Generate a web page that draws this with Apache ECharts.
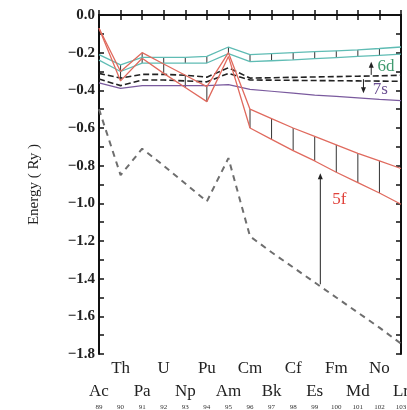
<!DOCTYPE html>
<html><head><meta charset="utf-8">
<script src="https://cdn.jsdelivr.net/npm/echarts@6/dist/echarts.min.js"></script>
<style>html,body{margin:0;padding:0;background:#fff;overflow:hidden}#c{width:407px;height:410px}</style>
</head><body><div id="c"></div>
<script>
const elements = ['Ac','Th','Pa','U','Np','Pu','Am','Cm','Bk','Cf','Es','Fm','Md','No','Lr'];
const atomicNumbers = [89,90,91,92,93,94,95,96,97,98,99,100,101,102,103];
const yTicks = [-1.8,-1.6,-1.4,-1.2,-1.0,-0.8,-0.6,-0.4,-0.2,0.0];

const d6Upper = [-0.21,-0.265,-0.225,-0.225,-0.225,-0.22,-0.17,-0.21,-0.205,-0.20,-0.195,-0.19,-0.185,-0.178,-0.17];
const d6Lower = [-0.24,-0.30,-0.255,-0.255,-0.255,-0.255,-0.205,-0.248,-0.243,-0.238,-0.232,-0.226,-0.22,-0.214,-0.208];
const s7Upper = [-0.31,-0.335,-0.315,-0.315,-0.32,-0.33,-0.28,-0.335,-0.333,-0.331,-0.329,-0.327,-0.325,-0.323,-0.32];
const s7Lower = [-0.34,-0.375,-0.345,-0.345,-0.35,-0.355,-0.31,-0.345,-0.346,-0.347,-0.348,-0.349,-0.35,-0.351,-0.352];
const purpleLine = [-0.36,-0.39,-0.375,-0.375,-0.375,-0.375,-0.37,-0.395,-0.405,-0.415,-0.425,-0.432,-0.44,-0.448,-0.455];
const f5Upper = [-0.07,-0.30,-0.20,-0.26,-0.32,-0.38,-0.20,-0.50,-0.55,-0.60,-0.645,-0.69,-0.735,-0.775,-0.815];
const f5Lower = [-0.07,-0.35,-0.23,-0.31,-0.385,-0.46,-0.22,-0.60,-0.66,-0.72,-0.775,-0.835,-0.89,-0.945,-1.005];
const greyDashed = [-0.50,-0.85,-0.71,-0.80,-0.895,-0.99,-0.76,-1.175,-1.26,-1.34,-1.42,-1.50,-1.58,-1.66,-1.745];

const hatchIdx6d = [1,2,3,4,5,6,7,8,9,10,11,12,13];
const hatchIdx5f = [1,2,3,4,5,7,8,9,10,11,12,13];

const arrowX = [99.26, 101.62, 101.26];
const arrowFrom = [-1.43, -0.318, -0.341];
const arrowTo = [-0.84, -0.248, -0.415];

const noteText = ['5f','6d','7s'];
const noteX = [100.14, 102.31, 102.04];
const noteY = [-0.98, -0.274, -0.398];
const noteColor = ['#e0413a','#3f9a6e','#6b4f92'];

const pairs = arr => arr.map((v,i)=>[atomicNumbers[i], v]);
const FONT = 'Liberation Serif';

function lineSeries(name, arr, color, width, type){
  return {name, type:'line', data:pairs(arr), symbol:'none', silent:true,
    lineStyle:{color, width, type: type||'solid'}, z:3};
}

const hatchData = hatchIdx6d.map(i=>[atomicNumbers[i], d6Upper[i], d6Lower[i]])
  .concat(hatchIdx5f.map(i=>[atomicNumbers[i], f5Upper[i], f5Lower[i]]));

const arrowData = arrowX.map((x,i)=>[x, arrowFrom[i], arrowTo[i]]);
const noteData = noteX.map((x,i)=>[x, noteY[i], i]);

const xBase = {type:'value', min:89, max:103, interval:1, splitLine:{show:false}, gridIndex:0};
function rowFormatter(parity){
  return v => { const i = Math.round(v-89); return (i%2===parity) ? elements[i] : ''; };
}

const option = {
  animation:false,
  backgroundColor:'#fff',
  grid:{left:99, right:6, top:15, bottom:56, containLabel:false, outerBoundsMode:'none'},
  xAxis:[
    Object.assign({}, xBase, {position:'bottom',
      axisLine:{show:true, lineStyle:{color:'#111', width:2}},
      axisTick:{show:true, inside:true, length:5, lineStyle:{color:'#111', width:1.5}},
      axisLabel:{show:true, showMinLabel:true, showMaxLabel:true, formatter:rowFormatter(1), margin:6, fontFamily:FONT, fontSize:17, color:'#222'}}),
    Object.assign({}, xBase, {position:'bottom', offset:23,
      axisLine:{show:false}, axisTick:{show:false},
      axisLabel:{show:true, showMinLabel:true, showMaxLabel:true, formatter:rowFormatter(0), margin:6, fontFamily:FONT, fontSize:17, color:'#222'}}),
    Object.assign({}, xBase, {position:'bottom', offset:44,
      axisLine:{show:false}, axisTick:{show:false},
      axisLabel:{show:true, showMinLabel:true, showMaxLabel:true, formatter:v=>String(Math.round(v)), margin:6, fontFamily:FONT, fontSize:7, color:'#333'}}),
    Object.assign({}, xBase, {position:'top',
      axisLine:{show:true, lineStyle:{color:'#111', width:2}},
      axisTick:{show:true, inside:true, length:5, lineStyle:{color:'#111', width:1.5}},
      axisLabel:{show:false}})
  ],
  yAxis:[
    {type:'value', min:yTicks[0], max:yTicks[yTicks.length-1], interval:0.2, position:'left',
      splitLine:{show:false},
      axisLine:{show:true, lineStyle:{color:'#111', width:2}},
      axisTick:{show:true, inside:true, length:5, lineStyle:{color:'#111', width:1.5}},
      minorTick:{show:true, splitNumber:2, length:5, lineStyle:{color:'#111', width:1.5}},
      minorSplitLine:{show:false},
      axisLabel:{margin:4, fontFamily:FONT, fontSize:15, fontWeight:'bold', color:'#222',
        formatter:v=>{const s=Math.abs(v).toFixed(1); return (v<-1e-9?'\u2212':'')+s;}},
      name:'Energy ( Ry )', nameLocation:'middle', nameGap:57,
      nameTextStyle:{fontFamily:FONT, fontSize:15, color:'#222'}},
    {type:'value', min:yTicks[0], max:yTicks[yTicks.length-1], interval:0.2, position:'right',
      splitLine:{show:false},
      axisLine:{show:true, lineStyle:{color:'#111', width:2}},
      axisTick:{show:true, inside:true, length:5, lineStyle:{color:'#111', width:1.5}},
      minorTick:{show:true, splitNumber:2, length:5, lineStyle:{color:'#111', width:1.5}},
      axisLabel:{show:false}}
  ],
  series:[
    lineSeries('grey', greyDashed, '#6e6e6e', 2, [6,5]),
    lineSeries('purple', purpleLine, '#7a5a9e', 1.2),
    lineSeries('7s upper', s7Upper, '#222', 1.6, [6,3]),
    lineSeries('7s lower', s7Lower, '#222', 1.6, [6,3]),
    lineSeries('6d upper', d6Upper, '#5fbcb4', 1.3),
    lineSeries('6d lower', d6Lower, '#5fbcb4', 1.3),
    lineSeries('5f upper', f5Upper, '#e06a5e', 1.3),
    lineSeries('5f lower', f5Lower, '#e06a5e', 1.3),
    {type:'custom', name:'hatch', silent:true, z:2, data:hatchData,
      renderItem:(params, api)=>{
        const p1 = api.coord([api.value(0), api.value(1)]);
        const p2 = api.coord([api.value(0), api.value(2)]);
        return {type:'line', shape:{x1:p1[0], y1:p1[1], x2:p2[0], y2:p2[1]},
          style:{stroke:'#333', lineWidth:1}};
      }},
    {type:'custom', name:'arrows', silent:true, z:4, data:arrowData,
      renderItem:(params, api)=>{
        const p1 = api.coord([api.value(0), api.value(1)]);
        const p2 = api.coord([api.value(0), api.value(2)]);
        const dir = p2[1] < p1[1] ? 1 : -1;
        const h = 6, w = 2.5;
        return {type:'group', children:[
          {type:'line', shape:{x1:p1[0], y1:p1[1], x2:p2[0], y2:p2[1]+dir*h*0.5}, style:{stroke:'#222', lineWidth:1}},
          {type:'polygon', shape:{points:[[p2[0], p2[1]], [p2[0]-w, p2[1]+dir*h], [p2[0]+w, p2[1]+dir*h]]}, style:{fill:'#222'}}
        ]};
      }},
    {type:'custom', name:'notes', silent:true, z:5, data:noteData,
      renderItem:(params, api)=>{
        const p = api.coord([api.value(0), api.value(1)]);
        const i = api.value(2);
        return {type:'text', x:p[0], y:p[1], style:{text:noteText[i], fill:noteColor[i],
          font:'17px "Liberation Serif"', align:'center', verticalAlign:'middle'}};
      }}
  ]
};
echarts.init(document.getElementById('c'), null, {renderer:'canvas'}).setOption(option);
</script>
</body></html>
